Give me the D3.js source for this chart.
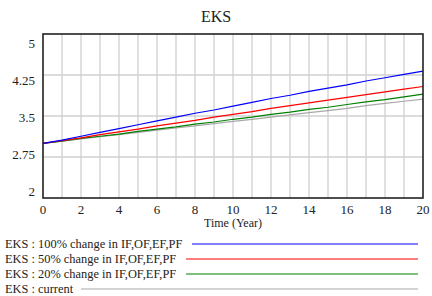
<!DOCTYPE html>
<html>
<head>
<meta charset="utf-8">
<script src="https://cdn.jsdelivr.net/npm/d3@7"></script>
<style>
  body { margin: 0; background: #fff; }
</style>
</head>
<body>
<div id="chart"></div>
<script>
// years 0..20
var years = d3.range(0, 21)
var seriesNames = [
  "EKS : 100% change in IF,OF,EF,PF",
  "EKS : 50% change in IF,OF,EF,PF",
  "EKS : 20% change in IF,OF,EF,PF",
  "EKS : current"
]
var seriesColors = ["#0000ff", "#ff0000", "#008000", "#a8a8a8"]
var eks100 = [3.00, 3.06, 3.13, 3.20, 3.27, 3.34, 3.41, 3.48, 3.55, 3.61, 3.68, 3.75, 3.82, 3.88, 3.95, 4.01, 4.07, 4.14, 4.20, 4.26, 4.32]
var eks50 = [3.00, 3.05, 3.10, 3.16, 3.21, 3.26, 3.32, 3.37, 3.42, 3.48, 3.53, 3.58, 3.64, 3.69, 3.74, 3.79, 3.84, 3.89, 3.94, 3.99, 4.04]
var eks20 = [3.00, 3.04, 3.09, 3.13, 3.17, 3.22, 3.26, 3.30, 3.35, 3.39, 3.44, 3.48, 3.53, 3.57, 3.62, 3.66, 3.71, 3.76, 3.80, 3.85, 3.90]
var eksCurrent = [3.00, 3.04, 3.08, 3.12, 3.16, 3.20, 3.24, 3.28, 3.32, 3.36, 3.40, 3.44, 3.48, 3.52, 3.56, 3.60, 3.64, 3.69, 3.73, 3.77, 3.81]
var yTicks = [2, 2.75, 3.5, 4.25, 5]
var xTicks = [0, 2, 4, 6, 8, 10, 12, 14, 16, 18, 20]

const FONT = "'Liberation Serif', 'Times New Roman', Times, serif"
const W = 432, H = 296
const margin = { top: 34, right: 9, bottom: 98, left: 43 },
    width = W - margin.left - margin.right,
    height = H - margin.top - margin.bottom

const svg = d3.select("#chart")
    .append("svg")
    .attr("width", W)
    .attr("height", H)
    .attr("font-family", FONT)

svg.append("text")
    .attr("x", W / 2)
    .attr("y", 22)
    .attr("text-anchor", "middle")
    .attr("font-family", FONT)
    .attr("font-size", 16)
    .attr("fill", "#222")
    .text("EKS")

const g = svg.append("g")
    .attr("transform", `translate(${margin.left},${margin.top})`)

const x = d3.scaleLinear().domain([0, 20]).range([0, width])
const y = d3.scaleLinear().domain([2, 5]).range([height, 0])
// vensim squeezes end labels inside the box
const yLab = d3.scaleLinear().domain([2, 5]).range([height - 7, 9])

// grid
g.append("g")
    .selectAll("line")
    .data(d3.range(1, 20))
    .enter()
    .append("line")
    .attr("x1", d => x(d)).attr("x2", d => x(d))
    .attr("y1", 0).attr("y2", height)
    .attr("stroke", "#d0d0d0")
    .attr("stroke-width", 1.3)
g.append("g")
    .selectAll("line")
    .data(yTicks.slice(1, -1))
    .enter()
    .append("line")
    .attr("x1", 0).attr("x2", width)
    .attr("y1", d => y(d)).attr("y2", d => y(d))
    .attr("stroke", "#d0d0d0")
    .attr("stroke-width", 1.3)

// series
var allSeries = [eks100, eks50, eks20, eksCurrent]
const line = d3.line()
    .x((d, i) => x(years[i]))
    .y(d => y(d))
for (let s = allSeries.length - 1; s >= 0; s--) {
  g.append("path")
      .datum(allSeries[s])
      .attr("d", line)
      .attr("fill", "none")
      .attr("stroke", seriesColors[s])
      .attr("stroke-width", 1.2)
}

// frame
g.append("rect")
    .attr("width", width).attr("height", height)
    .attr("fill", "none")
    .attr("stroke", "#222")
    .attr("stroke-width", 1.6)

// tick labels
g.append("g")
    .selectAll("text")
    .data(yTicks)
    .enter()
    .append("text")
    .attr("x", -8)
    .attr("y", d => yLab(d))
    .attr("dy", "0.35em")
    .attr("text-anchor", "end")
    .attr("font-family", FONT)
    .attr("font-size", 13)
    .attr("fill", "#222")
    .text(d => d)
g.append("g")
    .selectAll("text")
    .data(xTicks)
    .enter()
    .append("text")
    .attr("x", d => x(d))
    .attr("y", height + 16)
    .attr("text-anchor", "middle")
    .attr("font-family", FONT)
    .attr("font-size", 13)
    .attr("fill", "#222")
    .text(d => d)

svg.append("text")
    .attr("x", margin.left + width / 2)
    .attr("y", margin.top + height + 29)
    .attr("text-anchor", "middle")
    .attr("font-family", FONT)
    .attr("font-size", 12)
    .attr("fill", "#222")
    .text("Time (Year)")

// legend
var legY = [244, 259, 274, 289]
var legStart = [192, 186, 186, 81]
for (let s = 0; s < seriesNames.length; s++) {
  svg.append("text")
      .attr("x", 5)
      .attr("y", legY[s] + 4)
      .attr("font-family", FONT)
      .attr("font-size", 12.4)
      .attr("fill", "#222")
      .text(seriesNames[s])
  svg.append("line")
      .attr("x1", legStart[s]).attr("x2", 418)
      .attr("y1", legY[s]).attr("y2", legY[s])
      .attr("stroke", seriesColors[s])
      .attr("stroke-width", 1.2)
}
</script>
</body>
</html>
